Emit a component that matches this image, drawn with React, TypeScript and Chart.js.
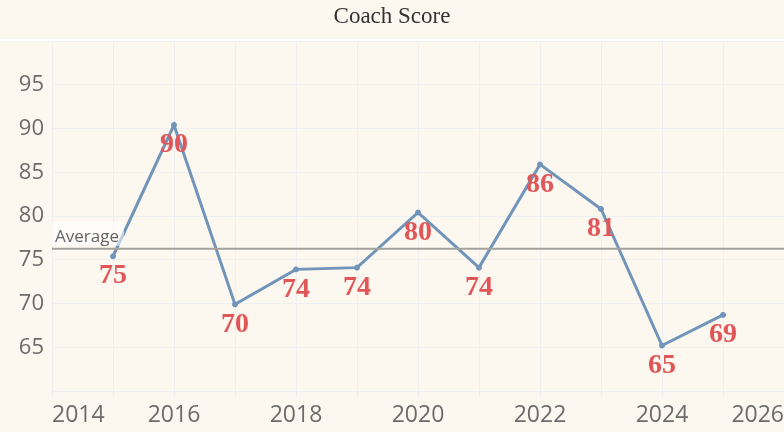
import React, { useEffect, useRef } from "react";
import { Chart, registerables } from "chart.js";

Chart.register(...registerables);

const years = [2015, 2016, 2017, 2018, 2019, 2020, 2021, 2022, 2023, 2024, 2025];
const scores = [75.4, 90.4, 69.9, 73.9, 74.1, 80.4, 74.1, 85.9, 80.8, 65.2, 68.7];
const titleText = "Coach Score";
const averageLabel = "Average";
const yTicks = [65, 70, 75, 80, 85, 90, 95];
const xTickYears = [2014, 2016, 2018, 2020, 2022, 2024, 2026];

const BG = "#fdf8ef";
const LINE = "#7094ba";
const RED = "#e15759";
const GRID = "#edeff0";
const TICK = "#6b6b6b";

const average = scores.reduce((a, b) => a + b, 0) / scores.length;

const decorPlugin = {
  id: "decor",
  beforeDraw(chart: any) {
    const { ctx, width, height } = chart;
    ctx.save();
    ctx.fillStyle = BG;
    ctx.fillRect(0, 0, width, height);
    ctx.fillStyle = "#333333";
    ctx.font = "23px 'Liberation Serif', 'Times New Roman', serif";
    ctx.textAlign = "center";
    ctx.textBaseline = "middle";
    ctx.fillText(titleText, width / 2, 17);
    ctx.strokeStyle = "#ffffff";
    ctx.lineWidth = 2;
    ctx.beginPath();
    ctx.moveTo(0, 40);
    ctx.lineTo(width, 40);
    ctx.stroke();
    ctx.restore();
  },
  afterDatasetsDraw(chart: any) {
    const { ctx, chartArea } = chart;
    const ys = chart.scales.y;
    const yAvg = ys.getPixelForValue(average);
    ctx.save();
    // average line
    ctx.strokeStyle = "#a3a29c";
    ctx.lineWidth = 2;
    ctx.beginPath();
    ctx.moveTo(chartArea.left, yAvg);
    ctx.lineTo(chartArea.right, yAvg);
    ctx.stroke();
    // average label
    ctx.font = "17px 'Open Sans', sans-serif";
    const tw = ctx.measureText(averageLabel).width;
    ctx.fillStyle = "rgba(255,255,255,0.55)";
    ctx.fillRect(chartArea.left, yAvg - 27, tw + 8, 24);
    ctx.fillStyle = "#666666";
    ctx.textAlign = "left";
    ctx.textBaseline = "alphabetic";
    ctx.fillText(averageLabel, chartArea.left + 3, yAvg - 7);
    // data labels
    const meta = chart.getDatasetMeta(0);
    ctx.font = "bold 28px 'Liberation Serif', 'Times New Roman', serif";
    ctx.fillStyle = RED;
    ctx.textAlign = "center";
    ctx.textBaseline = "middle";
    meta.data.forEach((pt: any, i: number) => {
      ctx.fillText(String(Math.round(scores[i])), pt.x, pt.y + 20);
    });
    ctx.restore();
  },
};

export default function App() {
  const ref = useRef<HTMLCanvasElement>(null);
  useEffect(() => {
    if (!ref.current) return;
    const chart = new Chart(ref.current, {
      type: "line",
      data: {
        datasets: [
          {
            data: years.map((y, i) => ({ x: y, y: scores[i] })),
            borderColor: LINE,
            backgroundColor: LINE,
            borderWidth: 3,
            pointRadius: 2.5,
            pointBorderWidth: 1,
            pointHoverRadius: 2.5,
            tension: 0,
          },
        ],
      },
      options: {
        animation: false,
        responsive: false,
        maintainAspectRatio: false,
        layout: { autoPadding: false, padding: { top: 41, left: 0, right: 0, bottom: 0 } },
        plugins: { legend: { display: false }, title: { display: false }, tooltip: { enabled: false } },
        scales: {
          x: {
            type: "linear",
            min: 2014,
            max: 2026,
            afterBuildTicks(scale: any) {
              const t = [];
              for (let v = 2014; v <= 2026; v++) t.push({ value: v });
              scale.ticks = t;
            },
            afterFit(scale: any) {
              scale.height = 41;
              scale.paddingLeft = 0;
              scale.paddingRight = 0;
            },
            ticks: {
              autoSkip: false,
              maxRotation: 0,
              align: "inner",
              padding: 5,
              color: TICK,
              font: { family: "'Open Sans', sans-serif", size: 23 },
              callback: (v: any) => (xTickYears.includes(Number(v)) ? String(v) : ""),
            },
            grid: { color: GRID, lineWidth: 1, tickLength: 6, drawTicks: true },
            border: { display: false },
          },
          y: {
            type: "linear",
            min: 60,
            max: 100,
            afterBuildTicks(scale: any) {
              const t = [];
              for (let v = 60; v <= 100; v += 5) t.push({ value: v });
              scale.ticks = t;
            },
            afterFit(scale: any) {
              scale.width = 52;
            },
            ticks: {
              padding: 8,
              color: TICK,
              font: { family: "'Open Sans', sans-serif", size: 22 },
              callback: (v: any) => (yTicks.includes(Number(v)) ? String(v) : ""),
            },
            grid: { color: GRID, lineWidth: 1, drawTicks: false },
            border: { display: false },
          },
        },
      },
      plugins: [decorPlugin],
    });
    return () => chart.destroy();
  }, []);
  return (
    <div style={{ position: "fixed", left: 0, top: 0, width: 784, height: 432, background: BG }}>
      <canvas ref={ref} width={784} height={432} style={{ display: "block", width: 784, height: 432 }} />
    </div>
  );
}
